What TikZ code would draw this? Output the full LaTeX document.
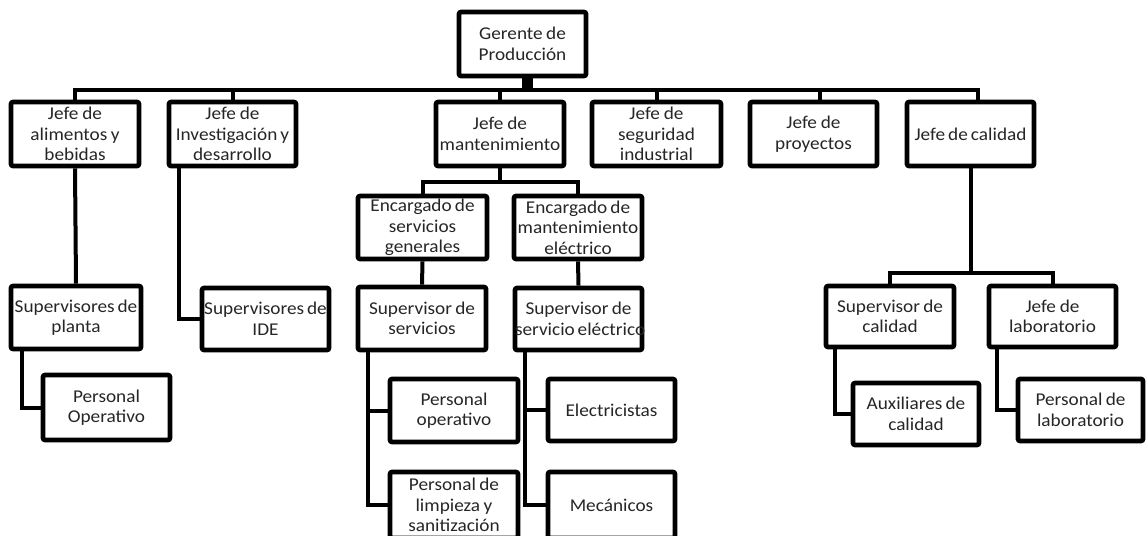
\documentclass[tikz,border=0pt]{standalone}
\usepackage{fontspec}
\setmainfont{Carlito}[FakeStretch=1.07]
\usetikzlibrary{calc}
\tikzset{
  orgbox/.style={draw=black, line width=4.6pt, fill=white, rounded corners=2pt,
    inner sep=0pt, align=center, text=black!85,
    font=\fontsize{18}{20.6}\selectfont},
  conn/.style={draw=black, line width=4pt, line join=miter}
}
\newcommand\orgnode[6]{%
  \pgfmathsetmacro\obw{#4-#2}\pgfmathsetmacro\obh{#5-#3}%
  \node[orgbox, text width=\obw pt, minimum height=\obh pt] (#1) at ({(#2+#4)/2},{(#3+#5)/2}) {\setlength\spaceskip{0.16em plus 0.05em}#6};}
\begin{document}
\begin{tikzpicture}[x=1pt,y=-1pt]
\useasboundingbox (0,0) rectangle (1147,535);
\fill[white] (0,0) rectangle (1147,535);
\clip (0,0) rectangle (1147,535);

\coordinate (bus) at (0,90);
\coordinate (mbus) at (0,182);
\coordinate (cbus) at (0,273);

% boxes
\orgnode{ger}{459}{12}{586}{76}{Gerente de\\Producción}
\orgnode{ali}{11}{102}{139}{166}{Jefe de\\alimentos y\\bebidas}
\orgnode{inv}{169}{102}{296}{166}{Jefe de\\Investigación y\\desarrollo}
\orgnode{man}{436}{102}{564}{166}{Jefe de\\mantenimiento}
\orgnode{seg}{592}{102}{721}{166}{Jefe de\\seguridad\\industrial}
\orgnode{pro}{750}{102}{877}{166}{Jefe de\\proyectos}
\orgnode{cal}{907}{102}{1034}{166}{Jefe de calidad}

\orgnode{egen}{358}{196}{487}{259}{Encargado de\\servicios\\generales}
\orgnode{eele}{514}{196}{642}{259}{Encargado de\\mantenimiento\\eléctrico}

\orgnode{spl}{11}{286}{141}{349}{\mbox{Supervisores de}\\planta}
\orgnode{sid}{202}{288}{329}{350}{\mbox{Supervisores de}\\IDE}
\orgnode{ssv}{358}{287}{486}{350}{Supervisor de\\servicios}
\orgnode{sse}{515}{288}{642}{350}{Supervisor de\\\mbox{servicio eléctrico}}
\orgnode{scal}{826}{286}{954}{347}{Supervisor de\\calidad}
\orgnode{jlab}{989}{286}{1116}{347}{Jefe de\\laboratorio}

\orgnode{pop}{43}{375}{170}{440}{Personal\\Operativo}
\orgnode{pope}{390}{379}{518}{442}{Personal\\operativo}
\orgnode{plim}{390}{472}{518}{538}{Personal de\\limpieza y\\sanitización}
\orgnode{elec}{548}{379}{675}{441}{Electricistas}
\orgnode{mec}{548}{472}{675}{538}{Mecánicos}
\orgnode{aux}{853}{383}{979}{445}{Auxiliares de\\calidad}
\orgnode{plab}{1018}{379}{1143}{441}{Personal de\\laboratorio}

% top level connectors
\coordinate (gerx) at ($(ger.south)+(5,0)$);
\draw[line width=11pt] (gerx) -- (gerx |- bus);
\coordinate (prox) at ($(pro.north)+(6,0)$);
\coordinate (calx) at ($(cal.north)+(7,0)$);
\draw[conn] (ali.north) -- (ali.north |- bus) -| (calx);
\foreach \n in {inv,man,seg} \draw[conn] (\n.north) -- (\n.north |- bus);
\draw[conn] (prox) -- (prox |- bus);

% mantenimiento
\draw[conn] (man.south) -- (man.south |- mbus);
\draw[conn] (egen.north) -- (egen.north |- mbus) -| (eele.north);
\draw[conn] (egen.south) -- (ssv.north);
\draw[conn] (eele.south) -- (sse.north);

% calidad
\draw[conn] (cal.south) -- (cal.south |- cbus);
\draw[conn] (scal.north) -- (scal.north |- cbus) -| (jlab.north);

% straight and elbow connectors
\draw[conn] (ali.south) -- (spl.north);
\draw[conn] ($(inv.south west)+(12,0)$) |- (sid.west);
\draw[conn] ($(spl.south west)+(13,0)$) |- (pop.west);

\coordinate (ssvx) at ($(ssv.south west)+(12,0)$);
\draw[conn] (ssvx) |- (plim.west);
\draw[conn] (pope.west) -- (pope.west -| ssvx);

\coordinate (ssex) at ($(sse.south west)+(12,0)$);
\draw[conn] (ssex) |- (mec.west);
\draw[conn] (elec.west) -- (elec.west -| ssex);

\draw[conn] ($(scal.south west)+(11,0)$) |- (aux.west);
\draw[conn] ($(jlab.south west)+(10,0)$) |- (plab.west);
\end{tikzpicture}
\end{document}
